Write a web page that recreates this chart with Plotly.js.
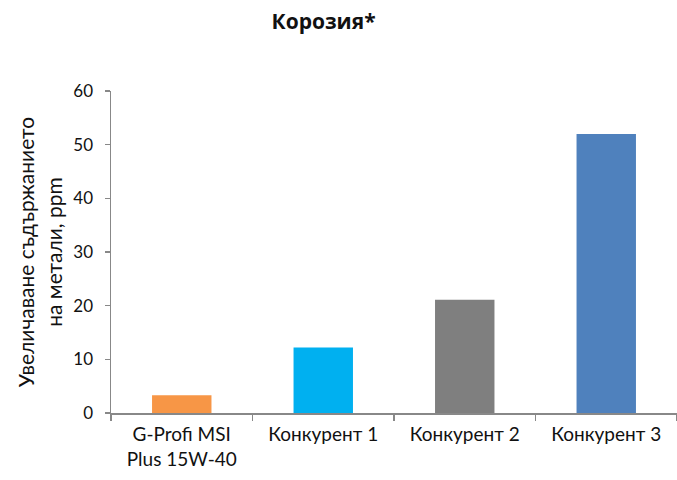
<!DOCTYPE html>
<html>
<head>
<meta charset="utf-8">
<script src="https://cdn.plot.ly/plotly-3.0.1.min.js"></script>
<style>html,body{margin:0;padding:0;background:#fff;}#chart{width:677px;height:480px;}</style>
</head>
<body>
<div id="chart"></div>
<script>
const categories = ["G-Profi MSI<br>Plus 15W-40", "Конкурент 1", "Конкурент 2", "Конкурент 3"];
const values = [3.3, 12.2, 21.1, 52.0];
const barColors = ["#F79646", "#00B0F0", "#7F7F7F", "#4F81BD"];
const yTicks = [0, 10, 20, 30, 40, 50, 60];

const font = "Lato, sans-serif";

Plotly.newPlot("chart", [{
  type: "bar",
  x: categories,
  y: values,
  marker: {color: barColors},
  hoverinfo: "none"
}], {
  width: 677, height: 480,
  margin: {l: 111, r: 0, t: 91, b: 67},
  paper_bgcolor: "#fff", plot_bgcolor: "#fff",
  bargap: 0.58,
  showlegend: false,
  title: {
    text: "<b>Корозия*</b>",
    font: {family: "Open Sans, sans-serif", size: 21, color: "#111", weight: "bold"},
    x: 0.478, xanchor: "center", xref: "container",
    y: 0.954, yanchor: "middle", yref: "container"
  },
  xaxis: {
    type: "category",
    showline: true, linecolor: "#888", linewidth: 1.5,
    ticks: "outside", tickson: "boundaries", ticklen: 6, tickcolor: "#888", tickwidth: 1.5,
    ticklabelstandoff: 4,
    showgrid: false, zeroline: false,
    tickfont: {family: font, size: 19, color: "#111"},
    fixedrange: true
  },
  yaxis: {
    range: [0, 60], tickvals: yTicks, ticktext: yTicks.map(String),
    showline: true, linecolor: "#888", linewidth: 1.5,
    ticks: "outside", ticklen: 5, tickcolor: "#888", tickwidth: 1.5,
    ticklabelstandoff: 8,
    showgrid: false, zeroline: false,
    tickfont: {family: font, size: 17, color: "#111"},
    title: {
      text: "Увеличаване съдържанието<br>на метали, ppm",
      font: {family: font, size: 21, color: "#111"},
      standoff: 5
    },
    fixedrange: true
  }
}, {displayModeBar: false, staticPlot: true});
</script>
</body>
</html>
